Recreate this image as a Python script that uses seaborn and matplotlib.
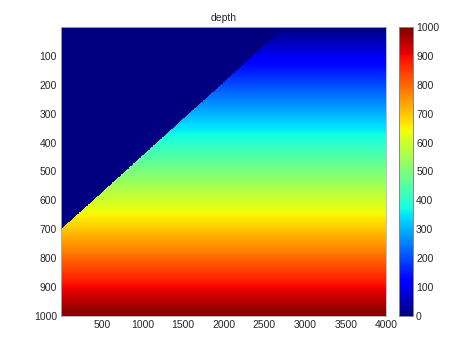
import numpy as np
import pandas as pd
import matplotlib
matplotlib.use("Agg")
import matplotlib.pyplot as plt
import seaborn as sns

# ---- data ----
depth_values = np.arange(1.0, 1000, 2.0)        # row depths (0..1000)
x_values = np.arange(2.5, 4000, 5.0)            # column positions (0..4000)
surface_x = [0.0, 2750.0]                       # boundary line x
surface_depth = [700.0, 0.0]                    # boundary line depth at those x
x_ticks = [500, 1000, 1500, 2000, 2500, 3000, 3500, 4000]
y_ticks = [100, 200, 300, 400, 500, 600, 700, 800, 900, 1000]
cbar_ticks = [0, 100, 200, 300, 400, 500, 600, 700, 800, 900, 1000]

# build field: depth below the surface line, 0 above it
slope = (surface_depth[1] - surface_depth[0]) / (surface_x[1] - surface_x[0])
surf = surface_depth[0] + slope * (x_values - surface_x[0])
D, X = np.meshgrid(depth_values, x_values, indexing="ij")
S = np.broadcast_to(surf, D.shape)
field = np.where(D >= S, D, 0.0)
df = pd.DataFrame(field, index=depth_values, columns=x_values)

sns.set_style("white")
plt.rcParams["font.family"] = ["Liberation Sans", "DejaVu Sans"]

fig = plt.figure(figsize=(4.74, 3.55), dpi=100)
ax = fig.add_axes([0.129, 0.110, 0.686, 0.814])
cax = fig.add_axes([0.842, 0.110, 0.030, 0.814])

sns.heatmap(df, ax=ax, cbar_ax=cax, cmap="jet", vmin=0, vmax=1000,
            xticklabels=False, yticklabels=False, rasterized=True)

dx = 5.0
dy = 2.0
ax.set_xticks([v / dx for v in x_ticks])
ax.set_xticklabels([str(v) for v in x_ticks], fontsize=7.5, rotation=0)
ax.set_yticks([v / dy for v in y_ticks])
ax.set_yticklabels([str(v) for v in y_ticks], fontsize=7.5, rotation=0)
ax.set_xlabel("")
ax.set_ylabel("")
ax.set_title("depth", fontsize=7.5, pad=4)
ax.tick_params(direction="in", length=3, width=0.5, color="#444444", pad=3)
for sp in ax.spines.values():
    sp.set_visible(True)
    sp.set_linewidth(0.6)
    sp.set_color("#aab4c8")

cax.set_yticks(cbar_ticks)
cax.set_yticklabels([str(v) for v in cbar_ticks], fontsize=7.5)
cax.tick_params(direction="in", length=3, width=0.5, pad=2)
for sp in cax.spines.values():
    sp.set_visible(True)
    sp.set_linewidth(0.6)
    sp.set_color("#888888")

fig.savefig("out.png", dpi=100)
